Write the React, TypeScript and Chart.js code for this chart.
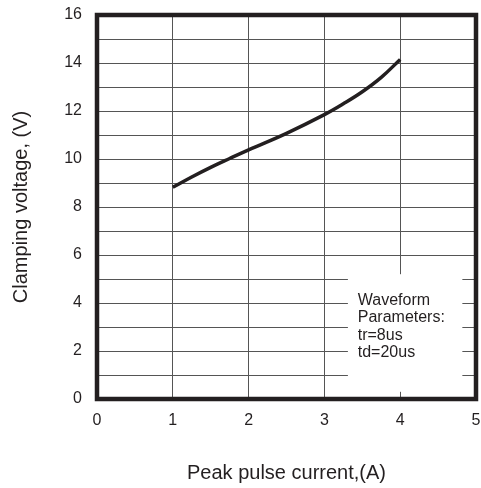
import React, { useEffect, useRef } from "react";
import { Chart, registerables } from "chart.js";

Chart.register(...registerables);

// ---- data ----
const currentA = [1, 1.25, 1.5, 1.75, 2, 2.5, 3, 3.25, 3.5, 3.75, 4];
const clampV = [8.82, 9.25, 9.65, 10.02, 10.38, 11.07, 11.85, 12.3, 12.8, 13.4, 14.15];
const xTicks = [0, 1, 2, 3, 4, 5];
const yMin = 0;
const yMax = 16;
const xTitle = "Peak pulse current,(A)";
const yTitle = "Clamping voltage, (V)";
const noteLines = ["Waveform", "Parameters:", "tr=8us", "td=20us"];
// note box in data units
const noteBoxX = [3.31, 4.82];
const noteBoxY = [0.3, 5.2];
const noteTextX = 3.44;
const noteFirstBaselineY = 3.92;

const INK = "#231f20";
const FONT = "'Liberation Sans', Arial, sans-serif";

const framePlugin = {
  id: "frameAndNote",
  afterDraw(chart: any) {
    const { ctx, chartArea, scales } = chart;
    const xs = scales.x;
    const ys = scales.y;
    ctx.save();
    // note box
    const bx1 = xs.getPixelForValue(noteBoxX[0]);
    const bx2 = xs.getPixelForValue(noteBoxX[1]);
    const by1 = ys.getPixelForValue(noteBoxY[1]);
    const by2 = ys.getPixelForValue(noteBoxY[0]);
    ctx.fillStyle = "#ffffff";
    ctx.fillRect(bx1, by1, bx2 - bx1, by2 - by1);
    ctx.fillStyle = INK;
    ctx.font = `16px ${FONT}`;
    ctx.textAlign = "left";
    ctx.textBaseline = "alphabetic";
    const tx = xs.getPixelForValue(noteTextX);
    const ty = ys.getPixelForValue(noteFirstBaselineY);
    noteLines.forEach((l, i) => ctx.fillText(l, tx, ty + i * 17.5));
    // thick frame
    ctx.strokeStyle = INK;
    ctx.lineWidth = 4.5;
    ctx.strokeRect(
      chartArea.left,
      chartArea.top,
      chartArea.right - chartArea.left,
      chartArea.bottom - chartArea.top
    );
    ctx.restore();
  },
};

export default function App() {
  const ref = useRef<HTMLCanvasElement>(null);
  useEffect(() => {
    if (!ref.current) return;
    const chart = new Chart(ref.current, {
      type: "line",
      data: {
        datasets: [
          {
            data: currentA.map((x, i) => ({ x, y: clampV[i] })),
            borderColor: INK,
            borderWidth: 3.5,
            pointRadius: 0,
            tension: 0.4,
            fill: false,
          },
        ],
      },
      options: {
        responsive: false,
        animation: false,
        devicePixelRatio: 1,
        layout: { padding: { top: 15, right: 5, left: 0, bottom: 0 } },
        plugins: { legend: { display: false }, tooltip: { enabled: false } },
        scales: {
          x: {
            type: "linear",
            min: xTicks[0],
            max: xTicks[xTicks.length - 1],
            afterFit: (s: any) => {
              s.height = 89;
              s.paddingLeft = 0;
              s.paddingRight = 0;
            },
            afterBuildTicks: (s: any) => {
              s.ticks = xTicks.map((v) => ({ value: v }));
            },
            grid: { color: "#555", lineWidth: 1, drawTicks: false },
            border: { display: false },
            ticks: {
              padding: 12,
              color: INK,
              font: { size: 16, family: FONT },
              callback: (v: any) => String(v),
            },
            title: {
              display: true,
              text: xTitle,
              color: INK,
              font: { size: 20, family: FONT },
              padding: { top: 3, bottom: 3 },
            },
          },
          y: {
            type: "linear",
            min: yMin,
            max: yMax,
            afterFit: (s: any) => {
              s.width = 97;
              s.paddingTop = 0;
              s.paddingBottom = 0;
            },
            grid: { color: "#555", lineWidth: 1, drawTicks: false },
            border: { display: false },
            ticks: {
              stepSize: 1,
              padding: 15,
              color: INK,
              font: { size: 16, family: FONT },
              callback: (v: any) => (Number(v) % 2 === 0 ? String(v) : ""),
            },
            title: {
              display: true,
              text: yTitle,
              color: INK,
              font: { size: 20, family: FONT },
              padding: { top: 9, bottom: 9 },
            },
          },
        },
      },
      plugins: [framePlugin],
    } as any);
    return () => chart.destroy();
  }, []);
  return (
    <div style={{ position: "absolute", left: 0, top: 0, width: 481, height: 488, background: "#fff" }}>
      <canvas ref={ref} width={481} height={488} />
    </div>
  );
}
